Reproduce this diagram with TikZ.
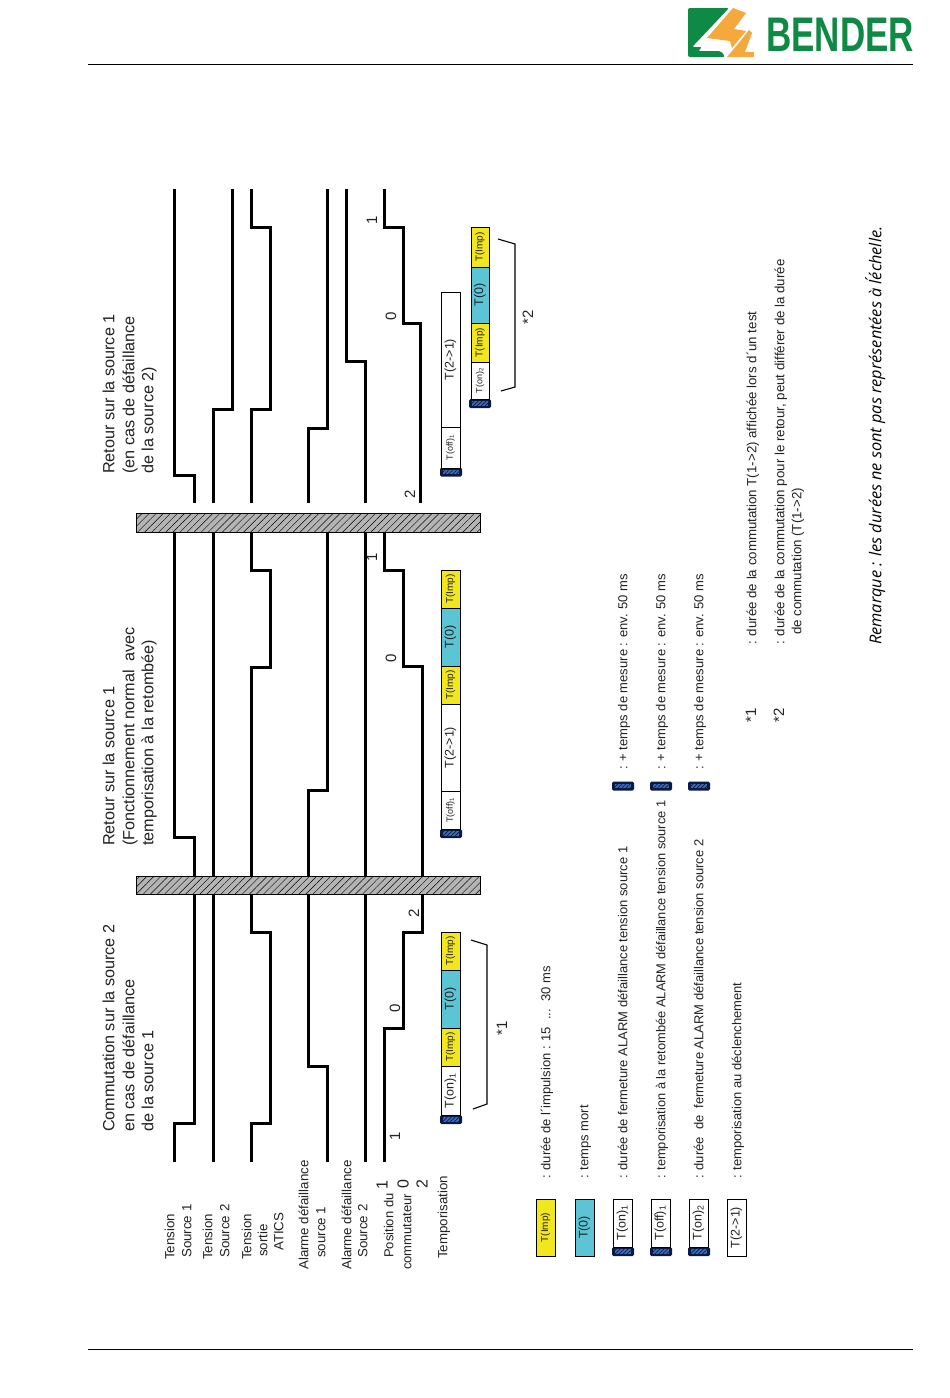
\documentclass[tikz,border=0pt]{standalone}
\usepackage{fontspec}
\setmainfont{Liberation Sans}
\newfontfamily\remfont{Open Sans}
\usetikzlibrary{patterns.meta}
\definecolor{impY}{HTML}{F2E61E}
\definecolor{deadB}{HTML}{5BC5D6}
\definecolor{hatchG}{HTML}{B4B4B4}
\definecolor{navyK}{HTML}{0A1A45}
\definecolor{blueK}{HTML}{3A6AB8}
\definecolor{bendG}{HTML}{0E8A45}
\definecolor{bendO}{HTML}{F5A83C}
\definecolor{txtG}{HTML}{222222}
\tikzset{
  x=1pt,y=-1pt,
  sigb/.style={line width=3pt,line cap=butt,line join=miter,black},
  rule/.style={line width=0.9pt,black},
  bracket/.style={line width=1.1pt,black},
  vtext/.style={xshift=1.7pt,rotate=90,anchor=mid west,inner sep=0pt,text=txtG,font=\fontsize{13.3}{15}\selectfont},
  ttl/.style={vtext,font=\fontsize{16.2}{18}\selectfont},
  lab/.style={vtext,font=\fontsize{13}{15}\selectfont},
  note/.style={vtext,font=\fontsize{13.3}{15}\selectfont},
  num/.style={rotate=90,anchor=center,inner sep=0pt,text=txtG,font=\fontsize{15}{16}\selectfont},
  bignum/.style={num,font=\fontsize{16}{17}\selectfont},
  cellbox/.style={draw=black,line width=0.8pt,inner sep=0pt,text=txtG,anchor=center},
  blockbox/.style={fill=navyK,rounded corners=1.5pt,inner sep=0pt,minimum width=22pt,minimum height=9pt,anchor=center},
  zone/.style={draw=black,line width=0.9pt,fill=hatchG,postaction={pattern={Lines[angle=45,distance=5pt,line width=0.45pt]},pattern color=black}},
}
\newcommand{\tcell}[7]{%
  \pgfmathsetmacro\cx{(#2+#3)/2}\pgfmathsetmacro\cy{(#4+#5)/2}%
  \pgfmathsetmacro\cw{abs(#5-#4)}\pgfmathsetmacro\ch{abs(#3-#2)}%
  \node[cellbox,fill=#6,minimum width=\cw pt,minimum height=\ch pt,rotate=90] (#1) at (\cx,\cy) {#7};}
\newcommand{\tblock}[3]{%
  \node[blockbox] (#1) at (#2,#3) {};
  \fill[blueK] (#2-8,#3-2.2) rectangle (#2+8,#3+2.2);
  \fill[pattern={Lines[angle=45,distance=2.8pt,line width=0.7pt]},pattern color=navyK] (#2-8,#3-2.2) rectangle (#2+8,#3+2.2);}
\newcommand{\fsa}{\fontsize{10}{11}\selectfont}
\newcommand{\fsb}{\fontsize{12.5}{14}\selectfont}
\newcommand{\fsc}{\fontsize{9}{11}\selectfont}
\begin{document}
\begin{tikzpicture}
\useasboundingbox (0,0) rectangle (950,1398);
\fill[white] (0,0) rectangle (950,1398);
% page rules
\coordinate (rtl) at (88,64); \coordinate (rtr) at (913,64);
\coordinate (rbl) at (88,1349); \coordinate (rbr) at (913,1349);
\draw[rule] (rtl) -- (rtr);
\draw[rule] (rbl) -- (rbr);
% logo
\fill[bendG,rounded corners=2pt] (688,8) -- (729,8) -- (696,43) -- (692,47) -- (702,47) -- (698,51) -- (721,51) -- (725,57) -- (688,57) -- cycle;
\fill[bendO] (733,8) -- (746,13) -- (734,29) -- (746,31) -- (732,48) -- (730,41) -- (707,38) -- cycle;
\fill[bendO] (749,30) -- (752,33) -- (745,52) -- (754,52) -- (754,57) -- (727,57) -- (738,44) -- cycle;
\node[inner sep=0pt,anchor=west,text=bendG,font=\bfseries\fontsize{48.6}{49}\selectfont,xscale=0.72] (bender) at (766,34.5) {BENDER};
% signals, section 1
\draw[sigb] (174,1162) -- (174,1123) -- (194,1123) -- (194,894);
\draw[sigb] (213,1162) -- (213,894);
\draw[sigb] (251,1162) -- (251,1123) -- (270,1123) -- (270,932) -- (251,932) -- (251,894);
\draw[sigb] (327,1162) -- (327,1066) -- (308,1066) -- (308,894);
\draw[sigb] (365,1162) -- (365,894);
\draw[sigb] (384,1162) -- (384,1028) -- (403,1028) -- (403,932) -- (422,932) -- (422,894);
% signals, section 2
\draw[sigb] (194,876) -- (194,837) -- (174,837) -- (174,532);
\draw[sigb] (213,876) -- (213,532);
\draw[sigb] (251,876) -- (251,667) -- (270,667) -- (270,570) -- (251,570) -- (251,532);
\draw[sigb] (308,876) -- (308,790) -- (327,790) -- (327,532);
\draw[sigb] (365,876) -- (365,532);
\draw[sigb] (422,876) -- (422,666) -- (403,666) -- (403,570) -- (384,570) -- (384,532);
% signals, section 3
\draw[sigb] (194,503) -- (194,475) -- (174,475) -- (174,189);
\draw[sigb] (213,503) -- (213,409) -- (232,409) -- (232,189);
\draw[sigb] (251,503) -- (251,409) -- (270,409) -- (270,227) -- (251,227) -- (251,189);
\draw[sigb] (308,503) -- (308,428) -- (327,428) -- (327,189);
\draw[sigb] (365,503) -- (365,361) -- (346,361) -- (346,189);
\draw[sigb] (420,503) -- (420,323) -- (403,323) -- (403,227) -- (384,227) -- (384,189);
% hatched zones
\draw[zone] (136,876) rectangle (480,894);
\draw[zone] (136,513) rectangle (480,532);
% position digits
\node[num] (p11) at (395,1136) {1};
\node[num] (p10) at (395,1008) {0};
\node[num] (p12) at (414,913) {2};
\node[num] (p21) at (372,557) {1};
\node[num] (p20) at (391,658) {0};
\node[num] (p31) at (372,220) {1};
\node[num] (p30) at (391,316) {0};
\node[num] (p32) at (410,494) {2};
% titles
\node[ttl] (t11) at (110,1132) {Commutation sur la source 2};
\node[ttl] (t12) at (130,1132) {en cas de défaillance};
\node[ttl] (t13) at (149,1132) {de la source 1};
\node[ttl] (t21) at (110,846) {Retour sur la source 1};
\node[ttl] (t22) at (130,846) {(Fonctionnement normal\ \ avec};
\node[ttl] (t23) at (149,846) {temporisation à la retombée)};
\node[ttl] (t31) at (110,474) {Retour sur la source 1};
\node[ttl] (t32) at (130,474) {(en cas de défaillance};
\node[ttl] (t33) at (149,474) {de la source 2)};
% row labels
\node[vtext] (r1a) at (170,1260) {Tension};
\node[vtext] (r1b) at (187,1258) {Source 1};
\node[vtext] (r2a) at (208,1260) {Tension};
\node[vtext] (r2b) at (225,1258) {Source 2};
\node[vtext] (r3a) at (247,1260) {Tension};
\node[vtext] (r3b) at (263,1257) {sortie};
\node[vtext] (r3c) at (279,1251) {ATICS};
\node[vtext] (r4a) at (304,1270) {Alarme défaillance};
\node[vtext] (r4b) at (321,1258) {source 1};
\node[vtext] (r5a) at (347,1270) {Alarme défaillance};
\node[vtext] (r5b) at (363,1258) {Source 2};
\node[lab] (r6a) at (389,1258) {Position du};
\node[lab] (r6b) at (407,1270) {commutateur};
\node[bignum] (r61) at (382,1185) {1};
\node[bignum] (r60) at (403,1184) {0};
\node[bignum] (r62) at (422,1184) {2};
\node[vtext] (r7) at (443,1259) {Temporisation};
% timing section 1
\tblock{b1}{451}{1119.5}
\tcell{c11}{441}{460}{1066}{1115}{white}{\fsb T(on)\textsubscript{1}}
\tcell{c12}{441}{460}{1028}{1066}{impY}{\fsa T(Imp)}
\tcell{c13}{441}{460}{970}{1028}{deadB}{\fsb T(0)}
\tcell{c14}{441}{460}{932}{970}{impY}{\fsa T(Imp)}
\coordinate (k1a) at (473,1109); \coordinate (k1b) at (487,1104);
\coordinate (k1c) at (487,945); \coordinate (k1d) at (471,940);
\draw[bracket] (k1a) -- (k1b) -- (k1c) -- (k1d);
\node[num] (s1) at (502,1028) {*1};
% timing section 2
\tblock{b2}{451}{833.5}
\tcell{c21}{441}{460}{791}{829}{white}{\fsc T(off)\textsubscript{1}}
\tcell{c22}{441}{460}{704}{791}{white}{\fsb T(2->1)}
\tcell{c23}{441}{460}{666}{704}{impY}{\fsa T(Imp)}
\tcell{c24}{441}{460}{608}{666}{deadB}{\fsb T(0)}
\tcell{c25}{441}{460}{570}{608}{impY}{\fsa T(Imp)}
% timing section 3
\tblock{b3}{451}{472}
\tcell{c31}{441}{460}{427}{468}{white}{\fsc T(off)\textsubscript{1}}
\tcell{c32}{441}{460}{292}{427}{white}{\fsb T(2->1)}
\tblock{b4}{480}{403.5}
\tcell{c33}{471}{489}{362}{399}{white}{\fsc T(on)\textsubscript{2}}
\tcell{c34}{471}{489}{323}{362}{impY}{\fsa T(Imp)}
\tcell{c35}{471}{489}{267}{323}{deadB}{\fsb T(0)}
\tcell{c36}{471}{489}{227}{267}{impY}{\fsa T(Imp)}
\coordinate (k2a) at (501,391); \coordinate (k2b) at (515,387);
\coordinate (k2c) at (515,244); \coordinate (k2d) at (498,239);
\draw[bracket] (k2a) -- (k2b) -- (k2c) -- (k2d);
\node[num] (s2) at (528,317) {*2};
% legend
\tcell{l1}{536}{555}{1199}{1256}{impY}{\fsa T(Imp)}
\tcell{l2}{575}{594}{1199}{1256}{deadB}{\fsb T(0)}
\tblock{l3b}{623}{1251.5}
\tcell{l3}{613}{632}{1199}{1247}{white}{\fsb T(on)\textsubscript{1}}
\tblock{l4b}{661}{1251.5}
\tcell{l4}{651}{670}{1199}{1247}{white}{\fsb T(off)\textsubscript{1}}
\tblock{l5b}{699}{1251.5}
\tcell{l5}{689}{708}{1199}{1247}{white}{\fsb T(on)\textsubscript{2}}
\tcell{l6}{727}{746}{1199}{1256}{white}{\fsb T(2->1)}
\node[lab] (d1) at (546,1179) {: durée de l´impulsion : 15\ \ ...\ \ 30 ms};
\node[lab] (d2) at (584,1179) {: temps mort};
\node[lab] (d3) at (623,1179) {: durée de fermeture ALARM défaillance tension source 1};
\node[lab,font=\fontsize{12.85}{15}\selectfont] (d4) at (661,1179) {: temporisation à la retombée ALARM défaillance tension source 1};
\node[lab] (d5) at (699,1179) {: durée\ \ de\ \ fermeture ALARM défaillance tension source 2};
\node[lab] (d6) at (737,1179) {: temporisation au déclenchement};
% extra measuring time
\tblock{m1b}{623}{786}
\node[lab] (m1) at (623,770) {: + temps de mesure : env. 50 ms};
\tblock{m2b}{661}{786}
\node[lab] (m2) at (661,770) {: + temps de mesure : env. 50 ms};
\tblock{m3b}{699}{786}
\node[lab] (m3) at (699,770) {: + temps de mesure : env. 50 ms};
% notes
\node[num] (n1) at (751,715) {*1};
\node[num] (n2) at (779,715) {*2};
\node[note] (n1t) at (752,645) {: durée de la commutation T(1->2) affichée lors d´un test};
\node[note] (n2t) at (780,645) {: durée de la commutation pour le retour, peut différer de la durée};
\node[note] (n3t) at (797,635) {de commutation (T(1->2)};
\node[vtext,font=\remfont\itshape\fontsize{16.3}{19}\selectfont,text=black] (rem) at (877,645) {Remarque : les durées ne sont pas représentées à l´échelle.};
\end{tikzpicture}
\end{document}
